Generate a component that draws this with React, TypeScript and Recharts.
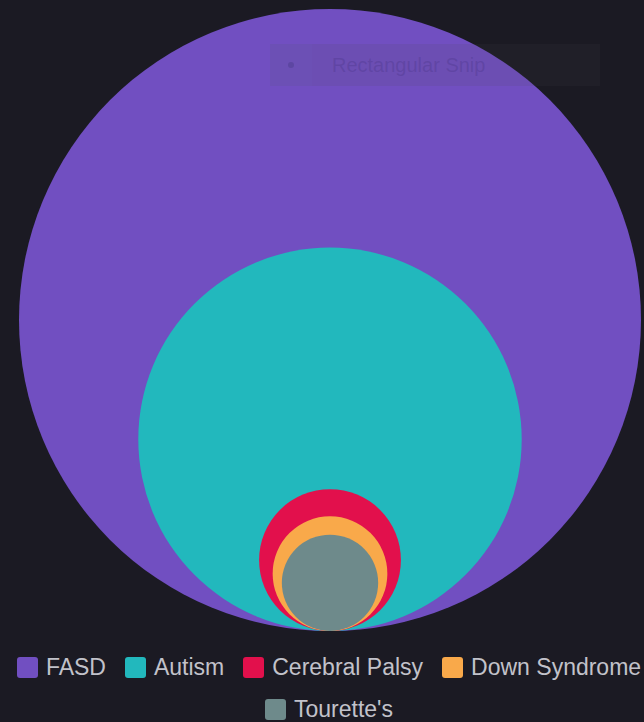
import React from 'react';
import { ScatterChart, Scatter, XAxis, YAxis, ZAxis, Legend } from 'recharts';

// prevalence (%) read from circle areas
const categories = ['FASD', 'Autism', 'Cerebral Palsy', 'Down Syndrome', "Tourette's"];
const prevalence = [5, 1.9, 0.26, 0.17, 0.12];
const colors = ['#714fc1', '#22b8bd', '#e2104c', '#f9a94a', '#6e8a8b'];

const maxValue = Math.max(...prevalence);
const maxRadius = 311;

// every bubble sits on the baseline, so its centre is at y = its own radius (sqrt of value)
const series = categories.map((name, i) => ({
    name,
    color: colors[i],
    data: [{ x: 0, y: Math.sqrt(prevalence[i]), value: prevalence[i] }],
}));

// keeps the series order (recharts sorts the payload by name)
const LegendRows = () => {
    const rows = [series.slice(0, 4), series.slice(4)];
    return (
        <div style={{ height: 91, paddingTop: 23, paddingLeft: 14, boxSizing: 'border-box' }}>
            {rows.map((row, r) => (
                <div
                    key={r}
                    style={{
                        display: 'flex',
                        justifyContent: 'center',
                        alignItems: 'center',
                        gap: 19,
                        height: 26,
                        marginTop: r === 0 ? 0 : 16,
                    }}
                >
                    {row.map((entry) => (
                        <div key={entry.name} style={{ display: 'flex', alignItems: 'center', gap: 8 }}>
                            <span
                                style={{
                                    display: 'inline-block',
                                    width: 21,
                                    height: 21,
                                    borderRadius: 3,
                                    background: entry.color,
                                }}
                            />
                            <span style={{ fontSize: 23, color: '#c2c2ca', whiteSpace: 'nowrap' }}>{entry.name}</span>
                        </div>
                    ))}
                </div>
            ))}
        </div>
    );
};

const App: React.FC = () => {
    return (
        <div
            style={{
                position: 'absolute',
                left: 0,
                top: 0,
                width: 644,
                height: 722,
                background: '#1b1a23',
                fontFamily: '"Liberation Sans", Arial, sans-serif',
                overflow: 'hidden',
            }}
        >
            <ScatterChart width={644} height={722} margin={{ top: 9, right: 3, bottom: 0, left: 19 }}>
                <XAxis type="number" dataKey="x" domain={[-1, 1]} hide />
                <YAxis type="number" dataKey="y" domain={[0, 2 * Math.sqrt(maxValue)]} hide />
                <ZAxis type="number" dataKey="value" domain={[0, maxValue]} range={[0, Math.PI * maxRadius * maxRadius]} />
                <Legend
                    verticalAlign="bottom"
                    content={<LegendRows />}
                    wrapperStyle={{ left: 0, width: 644 }}
                />
                {series.map((s) => (
                    <Scatter
                        key={s.name}
                        name={s.name}
                        data={s.data}
                        fill={s.color}
                        legendType="square"
                        isAnimationActive={false}
                    />
                ))}
            </ScatterChart>
            {/* faint screen-snip overlay seen in the source */}
            <div
                style={{
                    position: 'absolute',
                    left: 270,
                    top: 44,
                    width: 330,
                    height: 42,
                    background: 'rgba(70, 72, 84, 0.12)',
                    display: 'flex',
                    alignItems: 'center',
                    pointerEvents: 'none',
                }}
            >
                <div style={{ width: 42, height: 42, background: 'rgba(120, 110, 200, 0.08)', display: 'flex', alignItems: 'center', justifyContent: 'center' }}>
                    <span style={{ width: 6, height: 6, borderRadius: 3, background: 'rgba(60, 50, 120, 0.3)' }} />
                </div>
                <span style={{ marginLeft: 20, fontSize: 20, color: 'rgba(60, 45, 120, 0.25)' }}>Rectangular Snip</span>
            </div>
        </div>
    );
};

export default App;
